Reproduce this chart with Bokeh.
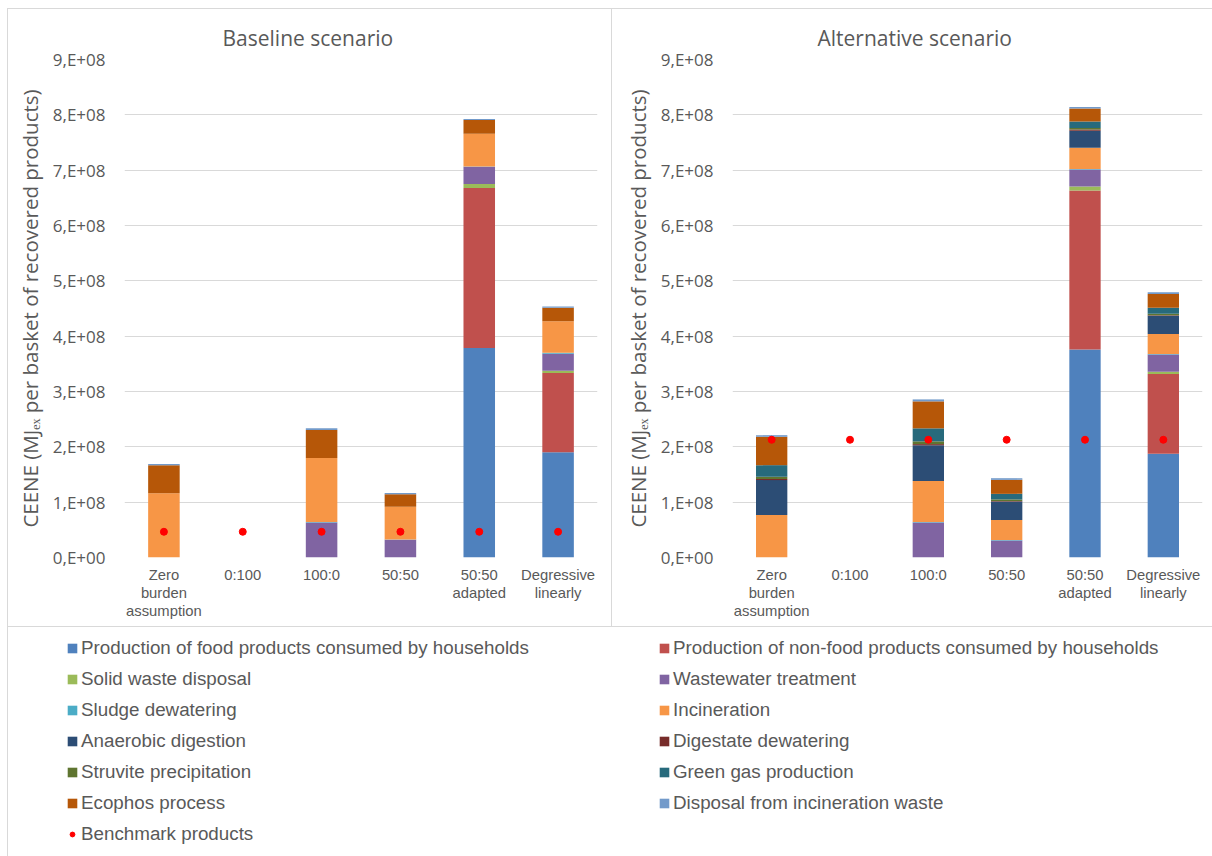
from bokeh.plotting import figure
from bokeh.layouts import column, row
from bokeh.models import (ColumnDataSource, FactorRange, Range1d, FixedTicker,
                          CustomJSTickFormatter, Legend, LegendItem)
from bokeh.embed import file_html
from bokeh.resources import INLINE

# ---- categories and tick labels -------------------------------------------
categories = ["Zero\nburden\nassumption", "0:100", "100:0", "50:50",
              "50:50\nadapted", "Degressive\nlinearly"]

y_ticks = [0, 1e8, 2e8, 3e8, 4e8, 5e8, 6e8, 7e8, 8e8, 9e8]
y_tick_labels = ["0,E+00", "1,E+08", "2,E+08", "3,E+08", "4,E+08",
                 "5,E+08", "6,E+08", "7,E+08", "8,E+08", "9,E+08"]

# ---- series ---------------------------------------------------------------
series_names = [
    "Production of food products consumed by households",
    "Production of non-food products consumed by households",
    "Solid waste disposal",
    "Wastewater treatment",
    "Sludge dewatering",
    "Incineration",
    "Anaerobic digestion",
    "Digestate dewatering",
    "Struvite precipitation",
    "Green gas production",
    "Ecophos process",
    "Disposal from incineration waste",
]
series_colors = ["#4F81BD", "#C0504D", "#9BBB59", "#8064A2", "#4BACC6",
                 "#F79646", "#2C4D75", "#772C2A", "#5F7530", "#276A7C",
                 "#B65708", "#729ACA"]
benchmark_name = "Benchmark products"
benchmark_color = "#FF0000"

# Baseline scenario (MJex per basket of recovered products)
base_food = [0, 0, 0, 0, 3.785e8, 1.900e8]
base_nonfood = [0, 0, 0, 0, 2.893e8, 1.434e8]
base_solid_waste = [0, 0, 0, 0, 0.072e8, 0.040e8]
base_wastewater = [0, 0, 0.633e8, 0.320e8, 0.313e8, 0.307e8]
base_sludge = [0, 0, 0.010e8, 0.005e8, 0.005e8, 0.020e8]
base_incineration = [1.163e8, 0, 1.157e8, 0.590e8, 0.590e8, 0.567e8]
base_anaerobic = [0, 0, 0, 0, 0, 0]
base_digestate = [0, 0, 0, 0, 0, 0]
base_struvite = [0, 0, 0, 0, 0, 0]
base_green_gas = [0, 0, 0, 0, 0, 0]
base_ecophos = [0.506e8, 0, 0.506e8, 0.230e8, 0.247e8, 0.247e8]
base_disposal = [0.020e8, 0, 0.030e8, 0.020e8, 0.020e8, 0.020e8]
base_benchmark = [0.465e8, 0.465e8, 0.465e8, 0.465e8, 0.465e8, 0.465e8]

# Alternative scenario
alt_food = [0, 0, 0, 0, 3.761e8, 1.875e8]
alt_nonfood = [0, 0, 0, 0, 2.870e8, 1.441e8]
alt_solid_waste = [0, 0, 0, 0, 0.072e8, 0.040e8]
alt_wastewater = [0, 0, 0.633e8, 0.307e8, 0.307e8, 0.313e8]
alt_sludge = [0, 0, 0.010e8, 0.010e8, 0.010e8, 0.010e8]
alt_incineration = [0.766e8, 0, 0.741e8, 0.362e8, 0.386e8, 0.362e8]
alt_anaerobic = [0.633e8, 0, 0.645e8, 0.331e8, 0.307e8, 0.326e8]
alt_digestate = [0.020e8, 0, 0.020e8, 0.010e8, 0.020e8, 0.010e8]
alt_struvite = [0.040e8, 0, 0.050e8, 0.030e8, 0.030e8, 0.030e8]
alt_green_gas = [0.210e8, 0, 0.235e8, 0.100e8, 0.115e8, 0.108e8]
alt_ecophos = [0.512e8, 0, 0.488e8, 0.253e8, 0.235e8, 0.247e8]
alt_disposal = [0.030e8, 0, 0.035e8, 0.030e8, 0.030e8, 0.030e8]
alt_benchmark = [2.128e8, 2.128e8, 2.128e8, 2.128e8, 2.128e8, 2.128e8]

baseline_series = [base_food, base_nonfood, base_solid_waste, base_wastewater,
                   base_sludge, base_incineration, base_anaerobic,
                   base_digestate, base_struvite, base_green_gas,
                   base_ecophos, base_disposal]
alternative_series = [alt_food, alt_nonfood, alt_solid_waste, alt_wastewater,
                      alt_sludge, alt_incineration, alt_anaerobic,
                      alt_digestate, alt_struvite, alt_green_gas,
                      alt_ecophos, alt_disposal]

TEXT = "#595959"
GRID = "#D9D9D9"
BORDER = "1px solid #D9D9D9"
y_title = "CEENE (MJ\u2091\u2093 per basket of recovered products)"


def scenario_chart(title, stacks, benchmark, width, left, right, title_offset,
                   styles):
    keys = ["s%d" % i for i in range(len(stacks))]
    data = {"cat": categories, "bench": benchmark}
    for k, vals in zip(keys, stacks):
        data[k] = vals
    src = ColumnDataSource(data)

    p = figure(width=width, height=618, x_range=FactorRange(*categories),
               y_range=Range1d(0, 9e8), toolbar_location=None,
               output_backend="svg", min_border_left=left,
               min_border_right=right, min_border_top=50,
               min_border_bottom=70, outline_line_color=None,
               background_fill_color="white", border_fill_color="white",
               title=title)
    p.x_range.range_padding = 0
    p.styles = styles

    p.title.text_font = "Open Sans"
    p.title.text_font_size = "21px"
    p.title.text_font_style = "normal"
    p.title.text_color = TEXT
    p.title.align = "left"
    p.title.offset = title_offset
    p.title.standoff = 16

    p.vbar_stack(keys, x="cat", width=0.4, source=src, color=series_colors,
                 line_color=None)
    p.scatter(x="cat", y="bench", source=src, size=7, marker="circle",
              fill_color=benchmark_color, line_color=benchmark_color)

    p.yaxis.ticker = FixedTicker(ticks=y_ticks)
    p.yaxis.formatter = CustomJSTickFormatter(
        args=dict(tick_values=y_ticks, tick_texts=y_tick_labels),
        code="const i = tick_values.indexOf(tick); "
             "return i >= 0 ? tick_texts[i] : '';")
    p.yaxis.axis_label = y_title
    p.yaxis.axis_label_text_font = "Open Sans"
    p.yaxis.axis_label_text_font_size = "20.5px"
    p.yaxis.axis_label_text_font_style = "normal"
    p.yaxis.axis_label_text_color = TEXT
    p.yaxis.axis_label_standoff = 6
    p.yaxis.major_label_text_font = "Open Sans"
    p.yaxis.major_label_text_font_size = "17px"
    p.yaxis.major_label_text_color = TEXT
    p.yaxis.major_label_standoff = 13

    p.xaxis.major_label_text_font = "Liberation Sans"
    p.xaxis.major_label_text_font_size = "14.8px"
    p.xaxis.major_label_text_line_height = 1.15
    p.xaxis.major_label_text_color = TEXT
    p.xaxis.major_label_standoff = 3

    for ax in (p.xaxis, p.yaxis):
        ax.axis_line_color = None
        ax.major_tick_line_color = None
        ax.minor_tick_line_color = None

    p.xgrid.grid_line_color = None
    p.ygrid.grid_line_color = GRID
    p.ygrid.grid_line_width = 1
    return p


p1 = scenario_chart("Baseline scenario", baseline_series, base_benchmark,
                    605, 116, 16, 98,
                    {"border-top": BORDER, "border-left": BORDER,
                     "border-right": BORDER})
p2 = scenario_chart("Alternative scenario", alternative_series, alt_benchmark,
                    600, 120, 10, 85, {"border-top": BORDER})


def legend_panel(width, left, entries, styles):
    q = figure(width=width, height=230, x_range=(0, 1), y_range=(0, 1),
               x_axis_type=None, y_axis_type=None, toolbar_location=None,
               output_backend="svg", min_border_left=left, min_border_top=10,
               min_border_right=0, min_border_bottom=0,
               outline_line_color=None)
    q.grid.visible = False
    q.styles = styles
    items = []
    for name, color in entries:
        # legend swatches only; the single point sits outside the visible range
        if name == benchmark_name:
            r = q.scatter(x=[-5], y=[-5], marker="circle", size=7,
                          fill_color=color, line_color=color)
        else:
            r = q.vbar(x=[-5], top=[-5], bottom=[-6], width=0.1,
                       fill_color=color, line_color=None)
        items.append(LegendItem(label=name, renderers=[r]))
    leg = Legend(items=items, location="top_left", margin=0, padding=0,
                 spacing=9, label_standoff=3, glyph_width=12,
                 glyph_height=12, label_height=21,
                 label_text_font="Liberation Sans",
                 label_text_font_size="18.8px", label_text_color=TEXT,
                 border_line_color=None, background_fill_alpha=0)
    q.add_layout(leg)
    return q


all_entries = list(zip(series_names, series_colors)) + \
    [(benchmark_name, benchmark_color)]
left_entries = all_entries[0::2]
right_entries = all_entries[1::2]

q1 = legend_panel(605, 58, left_entries,
                  {"border-top": BORDER, "border-left": BORDER})
q2 = legend_panel(600, 46, right_entries, {"border-top": BORDER})

layout = column(row(p1, p2), row(q1, q2),
                styles={"margin-left": "7px", "margin-top": "8px"})

open("out.html", "w").write(file_html(layout, INLINE))
